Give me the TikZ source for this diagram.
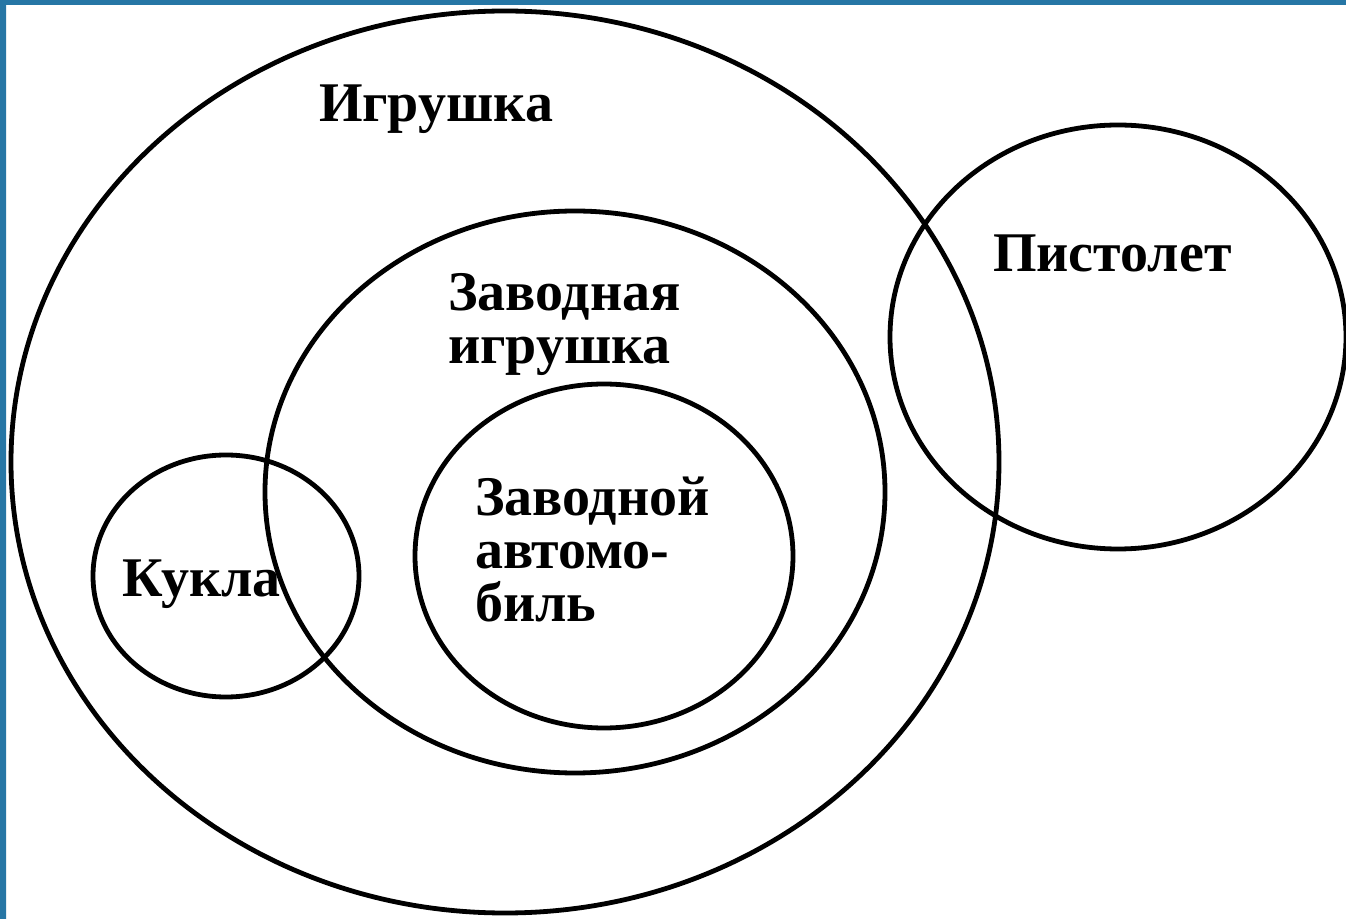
\documentclass[tikz,border=0pt]{standalone}
\usepackage{fontspec}
\setmainfont{Liberation Serif}
\usepackage{tikz}
\definecolor{edgeblue}{RGB}{38,118,165}

\begin{document}
\begin{tikzpicture}[x=0.5pt,y=-0.5pt,
        ring/.style={draw,line width=2.4pt},
        word/.style={inner sep=0pt,outer sep=0pt,align=left,
          font=\bfseries\fontsize{28pt}{26.5pt}\selectfont}]
   \useasboundingbox (0,0) rectangle (1346,919);
   \fill[white] (0,0) rectangle (1346,919);
   \fill[edgeblue] (0,0) rectangle (1346,5) (0,0) rectangle (6,919);
   % sets
   \draw[ring] (505,462) ellipse [x radius=247pt, y radius=225.5pt];
   \draw[ring] (575,492) ellipse [x radius=155pt, y radius=140.5pt];
   \draw[ring] (604,556) ellipse [x radius=94.5pt, y radius=86pt];
   \draw[ring] (226,576) ellipse [x radius=66.5pt, y radius=60.5pt];
   \draw[ring] (1118,337) ellipse [x radius=114pt, y radius=106pt];
   % names
   \node[word,anchor=base west] (toy) at (319,122) {Игрушка};
   \node[word,anchor=base west] (gun) at (993,272) {Пистолет};
   \node[word,anchor=north west] (wind) at (448,273) {Заводная\\игрушка};
   \node[word,anchor=north west] (car) at (475,477) {Заводной\\автомо-\\биль};
   \node[word,anchor=base west] (doll) at (122,597) {Кукла};
\end{tikzpicture}
\end{document}
